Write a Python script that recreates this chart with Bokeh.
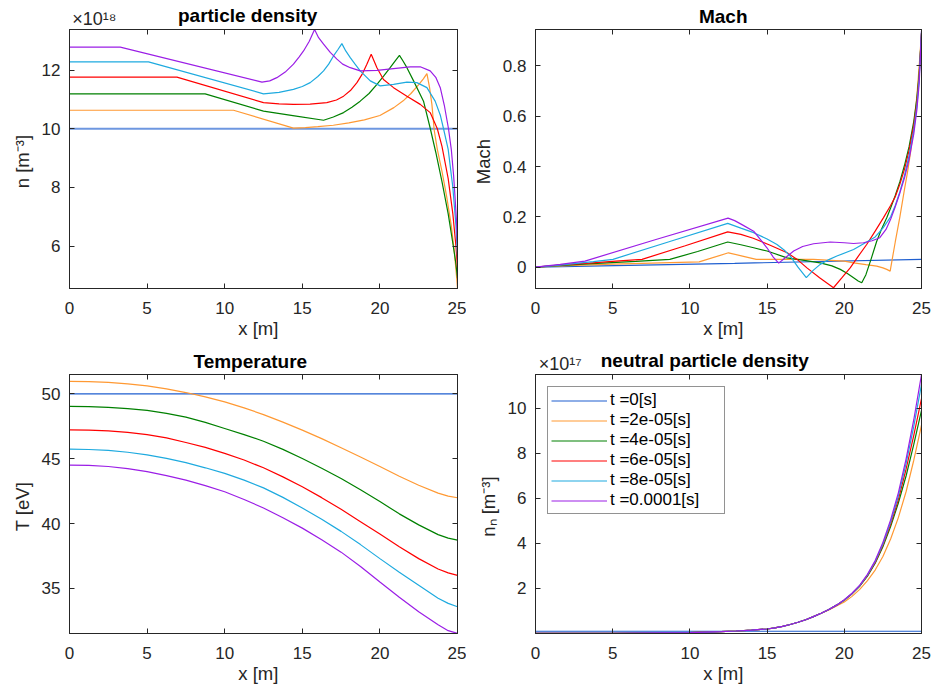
from bokeh.plotting import figure
from bokeh.layouts import gridplot
from bokeh.models import Range1d, FixedTicker, LinearAxis, Legend, LegendItem
from bokeh.embed import file_html
from bokeh.resources import INLINE

# ---------------- data ----------------
series_labels = ["t =0[s]", "t =2e-05[s]", "t =4e-05[s]", "t =6e-05[s]", "t =8e-05[s]", "t =0.0001[s]"]
series_colors = ["#1f5fd0", "#ff9933", "#008000", "#ff0000", "#1eaadf", "#9b1ee6"]

# particle density (x 1e18 m^-3)
n_x_t0 = [0, 25]
n_y_t0 = [10.0, 10.0]
n_x_t2 = [0, 10.57, 14.43, 15.2, 16, 17, 18, 19, 20, 20.9, 21.5, 22, 22.5, 22.8, 23.03, 23.2, 23.35, 23.5, 23.7, 24.0, 24.3, 24.6, 24.8, 24.95, 25]
n_y_t2 = [10.63, 10.63, 10.02, 10.04, 10.07, 10.12, 10.2, 10.3, 10.45, 10.72, 10.95, 11.2, 11.5, 11.7, 11.88, 11.4, 10.83, 9.95, 9.3, 8.55, 7.7, 6.7, 5.8, 4.9, 4.56]
n_x_t4 = [0, 8.74, 12.5, 14.5, 16.37, 17.0, 17.66, 18.2, 18.73, 19.3, 19.81, 20.25, 20.66, 21.0, 21.26, 21.5, 21.74, 22.17, 22.81, 23.25, 23.6, 24.0, 24.4, 24.7, 24.9, 25]
n_y_t4 = [11.19, 11.19, 10.6, 10.44, 10.29, 10.4, 10.55, 10.73, 10.94, 11.2, 11.51, 11.8, 12.08, 12.32, 12.5, 12.3, 12.08, 11.63, 10.94, 10.0, 9.2, 8.2, 7.1, 6.1, 5.4, 4.9]
n_x_t6 = [0, 6.92, 12.5, 13.5, 14.43, 15.5, 16.58, 17.2, 17.66, 18.1, 18.52, 18.85, 19.16, 19.44, 19.81, 20.23, 20.88, 21.74, 22.6, 23.24, 23.7, 24.0, 24.4, 24.7, 24.9, 25]
n_y_t6 = [11.76, 11.76, 10.89, 10.85, 10.83, 10.84, 10.89, 10.98, 11.11, 11.3, 11.57, 11.85, 12.2, 12.54, 12.08, 11.68, 11.4, 11.11, 10.83, 10.55, 10.0, 9.4, 8.3, 7.1, 6.0, 5.26]
n_x_t8 = [0, 5.09, 12.5, 13.5, 14.43, 15.0, 15.51, 16.0, 16.37, 16.7, 17.01, 17.3, 17.55, 17.8, 18.09, 18.4, 18.73, 19.38, 20.02, 20.88, 21.74, 22.38, 23.03, 23.56, 23.9, 24.1, 24.4, 24.7, 24.9, 25]
n_y_t8 = [12.28, 12.28, 11.19, 11.24, 11.34, 11.44, 11.57, 11.78, 11.97, 12.2, 12.48, 12.7, 12.9, 12.65, 12.42, 12.2, 11.97, 11.63, 11.46, 11.51, 11.59, 11.57, 11.4, 10.94, 10.45, 10.0, 9.3, 8.0, 6.7, 5.6]
n_x_t10 = [0, 3.27, 12.4, 12.9, 13.36, 13.9, 14.43, 14.8, 15.08, 15.45, 15.79, 16.05, 16.37, 16.8, 17.23, 17.6, 18.09, 18.73, 19.81, 20.88, 21.95, 22.6, 23.24, 23.6, 23.89, 24.15, 24.42, 24.6, 24.75, 24.85, 24.93, 25]
n_y_t10 = [12.78, 12.78, 11.59, 11.63, 11.74, 11.93, 12.2, 12.45, 12.65, 12.98, 13.38, 13.1, 12.88, 12.6, 12.37, 12.2, 12.08, 11.97, 11.99, 12.05, 12.11, 12.11, 11.97, 11.75, 11.4, 10.8, 10.0, 9.3, 8.4, 7.6, 6.9, 5.94]

# Mach number
m_x_t0 = [0, 12.9, 25]
m_y_t0 = [0.0, 0.015, 0.031]
m_x_t2 = [0, 2.5, 5, 7.5, 10.6, 12.5, 13.4, 14.3, 16, 18, 20, 20.6, 21.4, 22.1, 22.5, 22.75, 22.97, 23.1, 23.3, 23.6, 23.9, 24.1, 24.3, 24.5, 24.7, 24.85, 25]
m_y_t2 = [0.0, 0.007, 0.012, 0.016, 0.021, 0.057, 0.044, 0.031, 0.031, 0.031, 0.024, 0.017, 0.01, 0.004, -0.003, -0.009, -0.016, 0.03, 0.10, 0.2, 0.31, 0.38, 0.46, 0.56, 0.68, 0.8, 0.93]
m_x_t4 = [0, 2, 4, 6.5, 8.7, 10.5, 12.45, 13.3, 14.13, 15, 16.29, 17.4, 18.44, 19.2, 19.74, 20.2, 20.6, 20.9, 21.13, 21.4, 21.75, 22.1, 22.4, 22.75, 23.0, 23.3, 23.6, 23.9, 24.2, 24.5, 24.7, 24.85, 25]
m_y_t4 = [0.0, 0.008, 0.015, 0.023, 0.031, 0.062, 0.10, 0.089, 0.077, 0.064, 0.037, 0.027, 0.017, 0.005, -0.009, -0.025, -0.042, -0.055, -0.062, -0.03, 0.035, 0.103, 0.15, 0.196, 0.235, 0.285, 0.34, 0.405, 0.48, 0.58, 0.67, 0.77, 0.93]
m_x_t6 = [0, 1.75, 3.5, 5.2, 6.9, 9.7, 12.45, 13.3, 14.1, 15.2, 16.3, 17.0, 17.58, 18.4, 19.3, 19.85, 20.38, 20.9, 21.45, 22.0, 22.53, 23.0, 23.3, 23.6, 23.9, 24.2, 24.5, 24.7, 24.85, 25]
m_y_t6 = [0.0, 0.009, 0.016, 0.024, 0.031, 0.085, 0.14, 0.13, 0.115, 0.087, 0.057, 0.028, -0.003, -0.042, -0.082, -0.042, -0.003, 0.043, 0.09, 0.143, 0.196, 0.245, 0.28, 0.33, 0.39, 0.465, 0.565, 0.655, 0.76, 0.93]
m_x_t8 = [0, 1.25, 2.5, 3.75, 5.02, 8.7, 12.45, 13.3, 14.13, 15.0, 15.64, 16.1, 16.5, 17.0, 17.54, 18.0, 18.44, 19.0, 19.52, 20.6, 21.45, 22.0, 22.5, 23.0, 23.3, 23.6, 23.9, 24.2, 24.5, 24.7, 24.85, 25]
m_y_t8 = [0.0, 0.006, 0.014, 0.022, 0.031, 0.102, 0.174, 0.155, 0.137, 0.112, 0.09, 0.068, 0.044, 0.0, -0.042, -0.012, 0.011, 0.03, 0.044, 0.07, 0.10, 0.12, 0.155, 0.20, 0.245, 0.30, 0.365, 0.445, 0.545, 0.64, 0.75, 0.935]
m_x_t10 = [0, 1.6, 3.2, 7.8, 12.47, 12.9, 13.4, 14.13, 14.99, 15.4, 15.75, 16.2, 16.72, 17.3, 18.01, 19.09, 20.0, 20.6, 21.24, 21.8, 22.3, 22.7, 23.0, 23.3, 23.6, 23.9, 24.2, 24.5, 24.7, 24.85, 25]
m_y_t10 = [0.0, 0.011, 0.024, 0.11, 0.195, 0.185, 0.168, 0.143, 0.077, 0.04, 0.016, 0.038, 0.064, 0.082, 0.093, 0.10, 0.097, 0.094, 0.097, 0.105, 0.117, 0.15, 0.19, 0.24, 0.295, 0.355, 0.43, 0.53, 0.625, 0.73, 0.94]

# Temperature (eV)
T_x = [0, 1.25, 2.5, 3.75, 5, 6.25, 7.5, 8.75, 10, 11.25, 12.5, 13.75, 15, 16.25, 17.5, 18.75, 20, 21.25, 22.5, 23.75, 24.4, 25]
T_t0 = [50.0] * 22
T_t2 = [50.96, 50.94, 50.88, 50.77, 50.62, 50.38, 50.1, 49.77, 49.38, 48.92, 48.4, 47.82, 47.2, 46.55, 45.85, 45.13, 44.4, 43.65, 42.95, 42.35, 42.12, 41.99]
T_t4 = [49.03, 49.01, 48.95, 48.86, 48.72, 48.5, 48.2, 47.8, 47.33, 46.86, 46.35, 45.72, 45.02, 44.27, 43.48, 42.6, 41.7, 40.75, 39.9, 39.15, 38.88, 38.73]
T_t6 = [47.23, 47.21, 47.15, 47.03, 46.85, 46.6, 46.25, 45.87, 45.41, 44.9, 44.3, 43.6, 42.84, 42.0, 41.1, 40.15, 39.2, 38.22, 37.3, 36.5, 36.2, 36.01]
T_t8 = [45.74, 45.71, 45.65, 45.5, 45.3, 45.03, 44.7, 44.3, 43.87, 43.35, 42.75, 42.02, 41.2, 40.33, 39.4, 38.38, 37.3, 36.25, 35.25, 34.25, 33.85, 33.59]
T_t10 = [44.51, 44.48, 44.4, 44.23, 44.0, 43.7, 43.35, 42.93, 42.45, 41.86, 41.2, 40.45, 39.65, 38.75, 37.8, 36.7, 35.5, 34.33, 33.2, 32.2, 31.75, 31.54]

# neutral particle density (x 1e17 m^-3)
nn_x = [0, 5, 10, 12, 13, 14, 15, 15.5, 16, 16.5, 17, 17.5, 18, 18.5, 19, 19.5, 20, 20.5, 21, 21.5, 22, 22.5, 23, 23.5, 24, 24.5, 25]
nn_t0 = [0.1] * 27
nn_t2 = [0.005, 0.01, 0.04, 0.08, 0.11, 0.15, 0.2, 0.25, 0.32, 0.4, 0.5, 0.61, 0.75, 0.9, 1.05, 1.22, 1.4, 1.65, 1.96, 2.35, 2.82, 3.42, 4.2, 5.15, 6.3, 7.7, 9.26]
nn_t4 = [0.005, 0.01, 0.04, 0.08, 0.11, 0.15, 0.2, 0.25, 0.32, 0.4, 0.5, 0.61, 0.75, 0.9, 1.07, 1.26, 1.48, 1.76, 2.1, 2.55, 3.12, 3.85, 4.75, 5.8, 7.0, 8.4, 9.92]
nn_t6 = [0.005, 0.01, 0.04, 0.08, 0.11, 0.15, 0.2, 0.25, 0.32, 0.4, 0.5, 0.61, 0.75, 0.9, 1.07, 1.26, 1.49, 1.77, 2.12, 2.58, 3.16, 3.92, 4.85, 5.95, 7.3, 8.8, 10.44]
nn_t8 = [0.005, 0.01, 0.04, 0.08, 0.11, 0.15, 0.2, 0.25, 0.32, 0.4, 0.5, 0.61, 0.75, 0.9, 1.07, 1.26, 1.49, 1.78, 2.13, 2.6, 3.2, 3.98, 4.95, 6.1, 7.55, 9.2, 11.07]
nn_t10 = [0.005, 0.01, 0.04, 0.08, 0.11, 0.15, 0.2, 0.25, 0.32, 0.4, 0.5, 0.61, 0.75, 0.9, 1.07, 1.26, 1.5, 1.79, 2.15, 2.63, 3.24, 4.05, 5.05, 6.25, 7.75, 9.5, 11.51]

x_ticks = [0, 5, 10, 15, 20, 25]
n_ticks = [6, 8, 10, 12]
m_ticks = [0, 0.2, 0.4, 0.6, 0.8]
m_tick_labels = {0: "0", 0.2: "0.2", 0.4: "0.4", 0.6: "0.6", 0.8: "0.8"}
T_ticks = [35, 40, 45, 50]
nn_ticks = [2, 4, 6, 8, 10]

# ---------------- styling ----------------
FONT = "Liberation Sans"
TXT = "#262626"
LW = 1.2
NB = "\u00a0"  # trailing no-break spaces nudge centred labels like the original's


def style_axis(ax, ticks, label, overrides=None):
    ax.ticker = FixedTicker(ticks=ticks)
    ax.axis_line_color = TXT
    ax.axis_line_width = 1
    ax.major_tick_line_color = TXT
    ax.major_tick_in = 5
    ax.major_tick_out = 0
    ax.minor_tick_line_color = None
    ax.major_label_text_font = FONT
    ax.major_label_text_font_size = "17px"
    ax.major_label_text_color = TXT
    ax.axis_label_text_font = FONT
    ax.axis_label_text_font_size = "18.5px"
    ax.axis_label_text_font_style = "normal"
    ax.axis_label_text_color = TXT
    if overrides:
        ax.major_label_overrides = overrides
    ax.axis_label = label


def make_fig(title, ylabel, yrange, yticks, right, overrides=None, exponent=None):
    p = figure(width=466, height=345, output_backend="svg", toolbar_location=None,
               x_range=Range1d(0, 25), y_range=Range1d(*yrange),
               min_border_left=69, min_border_right=right,
               min_border_top=29, min_border_bottom=57)
    p.xgrid.visible = False
    p.ygrid.visible = False
    p.outline_line_color = TXT
    p.outline_line_alpha = 1
    p.background_fill_color = "white"
    p.border_fill_color = "white"
    style_axis(p.xaxis[0], x_ticks, "x [m]" + NB * 2)
    p.xaxis[0].major_label_standoff = 13
    p.xaxis[0].axis_label_standoff = 1
    style_axis(p.yaxis[0], yticks, ylabel + NB, overrides)
    p.yaxis[0].major_label_standoff = 9
    p.yaxis[0].axis_label_standoff = 6

    # top edge: inward ticks, optional exponent text, and the panel title
    top = LinearAxis()
    style_axis(top, [], title)
    top.axis_label_text_font_style = "bold"
    top.axis_label_text_font_size = "19px"
    top.axis_label_text_color = "#000000"
    top.minor_tick_line_color = TXT
    top.minor_tick_in = 5
    top.minor_tick_out = 0
    top.major_tick_line_color = None
    if exponent is None:
        top.ticker = FixedTicker(ticks=[], minor_ticks=x_ticks)
        top.major_label_standoff = 0
        top.axis_label_standoff = 3
    else:
        top.ticker = FixedTicker(ticks=[1.6], minor_ticks=x_ticks)
        top.major_label_overrides = {1.6: exponent}
        top.major_label_text_font_size = "18px"
        top.major_label_standoff = 1
        top.axis_label_standoff = -20
    p.add_layout(top, "above")

    # right edge: inward ticks only
    rgt = LinearAxis()
    style_axis(rgt, [], None)
    rgt.ticker = FixedTicker(ticks=[], minor_ticks=yticks)
    rgt.minor_tick_line_color = TXT
    rgt.minor_tick_in = 5
    rgt.minor_tick_out = 0
    rgt.major_label_standoff = 0
    p.add_layout(rgt, "right")
    return p


# ---------------- panels ----------------
p1 = make_fig("particle density" + NB * 6, "n [m⁻³]", (4.56, 13.38), n_ticks, 9, exponent="×10¹⁸")
n_xs = [n_x_t0, n_x_t2, n_x_t4, n_x_t6, n_x_t8, n_x_t10]
n_ys = [n_y_t0, n_y_t2, n_y_t4, n_y_t6, n_y_t8, n_y_t10]
for i, (xs, ys, c) in enumerate(zip(n_xs, n_ys, series_colors)):
    if i == 0:
        p1.line(xs, ys, line_color=c, line_width=2.2, line_alpha=0.65)
    else:
        p1.line(xs, ys, line_color=c, line_width=LW)

p2 = make_fig("Mach" + NB * 2, "Mach", (-0.085, 0.945), m_ticks, 11, m_tick_labels)
m_xs = [m_x_t0, m_x_t2, m_x_t4, m_x_t6, m_x_t8, m_x_t10]
m_ys = [m_y_t0, m_y_t2, m_y_t4, m_y_t6, m_y_t8, m_y_t10]
for xs, ys, c in zip(m_xs, m_ys, series_colors):
    p2.line(xs, ys, line_color=c, line_width=LW)

p3 = make_fig("Temperature" + NB * 5, "T [eV]", (31.53, 51.49), T_ticks, 9)
for ys, c in zip([T_t0, T_t2, T_t4, T_t6, T_t8, T_t10], series_colors):
    p3.line(T_x, ys, line_color=c, line_width=LW)

p4 = make_fig("neutral particle density" + NB * 9, "nₙ [m⁻³]", (0.0, 11.51), nn_ticks, 11, exponent="×10¹⁷")
items = []
for ys, c, lab in zip([nn_t0, nn_t2, nn_t4, nn_t6, nn_t8, nn_t10], series_colors, series_labels):
    r = p4.line(nn_x, ys, line_color=c, line_width=LW)
    items.append(LegendItem(label=lab, renderers=[r]))
leg = Legend(items=items, location="top_left")
leg.label_text_font = FONT
leg.label_text_font_size = "17px"
leg.label_text_color = "#000000"
leg.border_line_color = TXT
leg.border_line_width = 1
leg.background_fill_color = "white"
leg.background_fill_alpha = 1
leg.padding = 3
leg.spacing = 0
leg.margin = 12
leg.glyph_width = 56
leg.glyph_height = 19
leg.label_height = 19
leg.label_standoff = 3
leg.label_width = 111
p4.add_layout(leg)

grid = gridplot([[p1, p2], [p3, p4]], toolbar_location=None)

open("out.html", "w").write(file_html(grid, INLINE))
